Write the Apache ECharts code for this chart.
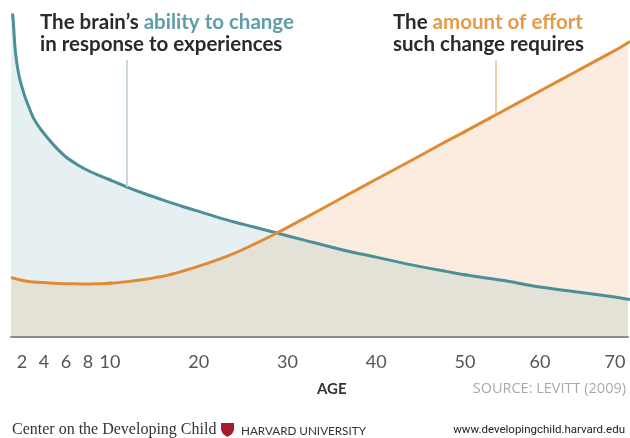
<!DOCTYPE html>
<html><head><meta charset="utf-8">
<script src="https://cdn.jsdelivr.net/npm/echarts@6/dist/echarts.min.js"></script>
<style>html,body{margin:0;padding:0;background:#fff}#c{width:630px;height:438px}</style>
</head><body><div id="c"></div>
<script>
// ---- data (age in years, value in relative units 0-100) ----
const ages = [1,1.1,1.2,1.3,1.4,1.6,1.8,2,2.25,2.5,3,3.5,4,5,6,7,8,9,10,12,14,16,18,20,22,24,26,28.8,32,36,40,44,48,50,55,60,65,70,72];
const brainAbility = [105,101.6,98.4,92.9,88.5,83.5,80.1,77.6,74.8,72.5,68.3,65.5,63.2,59.2,55.9,53.6,51.7,50.2,48.8,46.5,44.4,42.5,40.7,39.0,37.3,35.7,34.3,32.3,30.0,27.2,24.8,22.4,20.3,19.3,17.6,15.5,14.0,12.4,11.6];
const effortRequired = [18.5,18.4,18.3,18.2,18.1,17.9,17.8,17.6,17.45,17.3,17.1,17.0,16.9,16.7,16.55,16.5,16.45,16.55,16.7,17.2,17.95,18.9,20.3,22.0,23.9,26.0,28.5,32.3,37.0,43.0,49.0,54.9,60.9,63.8,70.1,76.4,82.7,89.0,91.8];
const ageTicks = [2,4,6,8,10,20,30,40,50,60,70];
// annotation pointers: [age, from value, to value]
const brainPointer = [11.9, 46.7, 86];
const effortPointer = [54.1, 69.5, 86];

// the original x scale is drawn in three linear pieces
const segments = [
  {min: 1, max: 10, left: 11, right: 110},
  {min: 10, max: 50, left: 110, right: 465},
  {min: 50, max: 71.73, left: 465, right: 628}
];

const TEAL = '#4b9098', ORANGE = '#e08a34';
const FILL_BLUE = '#e6eff1', FILL_PEACH = '#fcece0', FILL_BEIGE = '#e4e1d7';
const SANS = 'Lato, "Open Sans", sans-serif';

const tealData = ages.map((a, i) => [a, brainAbility[i]]);
const orangeData = ages.map((a, i) => [a, effortRequired[i]]);
const minData = ages.map((a, i) => [a, Math.min(brainAbility[i], effortRequired[i])]);

const grid = [], xAxis = [], yAxis = [], series = [];
segments.forEach((s, g) => {
  grid.push({left: s.left, width: s.right - s.left, top: 15, height: 322});
  xAxis.push({
    type: 'value', gridIndex: g, min: s.min, max: s.max, z: 10,
    axisLine: {show: true, lineStyle: {color: '#8d8d88', width: 2}},
    axisTick: {show: false}, splitLine: {show: false},
    axisLabel: {
      customValues: ageTicks.filter(t => t >= s.min && (g === segments.length - 1 ? t <= s.max : t < s.max)),
      fontSize: 18, color: '#555', margin: 16, fontFamily: SANS
    }
  });
  yAxis.push({type: 'value', gridIndex: g, min: 0, max: 100, show: false});
  const base = {type: 'line', xAxisIndex: g, yAxisIndex: g, symbol: 'none', smooth: 0.3, silent: true, animation: false};
  series.push(Object.assign({}, base, {data: tealData, lineStyle: {width: 0}, areaStyle: {color: FILL_BLUE, opacity: 1}, z: 1}));
  series.push(Object.assign({}, base, {data: orangeData, lineStyle: {width: 0}, areaStyle: {color: FILL_PEACH, opacity: 1}, z: 1}));
  series.push(Object.assign({}, base, {data: minData, lineStyle: {width: 0}, areaStyle: {color: FILL_BEIGE, opacity: 1}, z: 1}));
  const tealLine = Object.assign({}, base, {data: tealData, lineStyle: {width: 3, color: TEAL}, z: 3});
  const orangeLine = Object.assign({}, base, {data: orangeData, lineStyle: {width: 3, color: ORANGE}, z: 4});
  if (brainPointer[0] >= s.min && brainPointer[0] < s.max) {
    tealLine.markLine = {silent: true, symbol: 'none', label: {show: false}, lineStyle: {color: '#cbd8de', width: 2, type: 'solid'},
      data: [[{coord: [brainPointer[0], brainPointer[1]]}, {coord: [brainPointer[0], brainPointer[2]]}]]};
  }
  if (effortPointer[0] >= s.min && effortPointer[0] < s.max) {
    orangeLine.markLine = {silent: true, symbol: 'none', label: {show: false}, lineStyle: {color: '#f1d0ad', width: 2, type: 'solid'},
      data: [[{coord: [effortPointer[0], effortPointer[1]]}, {coord: [effortPointer[0], effortPointer[2]]}]]};
  }
  series.push(tealLine, orangeLine);
});

const chart = echarts.init(document.getElementById('c'), null, {renderer: 'canvas'});
chart.setOption({
  animation: false,
  backgroundColor: '#fff',
  grid, xAxis, yAxis, series,
  graphic: [
    {type: 'text', left: 40, top: 12, z: 20, style: {
      text: '{d|The brain’s }{t|ability to change}\n{d|in response to experiences}',
      rich: {
        d: {fontFamily: SANS, fontWeight: 'bold', fontSize: 20.5, fill: '#2a2a2a', lineHeight: 22},
        t: {fontFamily: SANS, fontWeight: 'bold', fontSize: 20.5, fill: '#5f9ea6', lineHeight: 22}
      }}},
    {type: 'text', left: 393, top: 12, z: 20, style: {
      text: '{d|The }{o|amount of effort}\n{d|such change requires}',
      rich: {
        d: {fontFamily: SANS, fontWeight: 'bold', fontSize: 20.5, fill: '#2a2a2a', lineHeight: 22},
        o: {fontFamily: SANS, fontWeight: 'bold', fontSize: 20.5, fill: '#e59a4c', lineHeight: 22}
      }}},
    {type: 'text', left: 317, top: 382, style: {text: 'AGE', fontFamily: SANS, fontWeight: 'bold', fontSize: 15, fill: '#333'}},
    {type: 'text', right: 4, top: 381, style: {text: 'SOURCE: LEVITT (2009)', fontFamily: '"Open Sans", sans-serif', fontSize: 14.5, fill: '#a9a9a9'}},
    {type: 'text', left: 12, top: 422, style: {text: 'Center on the Developing Child', fontFamily: '"Liberation Serif", serif', fontSize: 16, fill: '#333'}},
    {type: 'polygon', shape: {points: [[221,423],[234,423],[234,430],[232,434],[227.5,437],[223,434],[221,430]]}, style: {fill: '#a51c30'}},
    {type: 'text', left: 241, top: 425, style: {text: 'HARVARD UNIVERSITY', fontFamily: SANS, fontSize: 11.7, fill: '#333'}},
    {type: 'text', right: 5, top: 424, style: {text: 'www.developingchild.harvard.edu', fontFamily: '"Liberation Sans Narrow", Roboto, sans-serif', fontSize: 11.5, fill: '#222'}}
  ]
});
</script></body></html>
